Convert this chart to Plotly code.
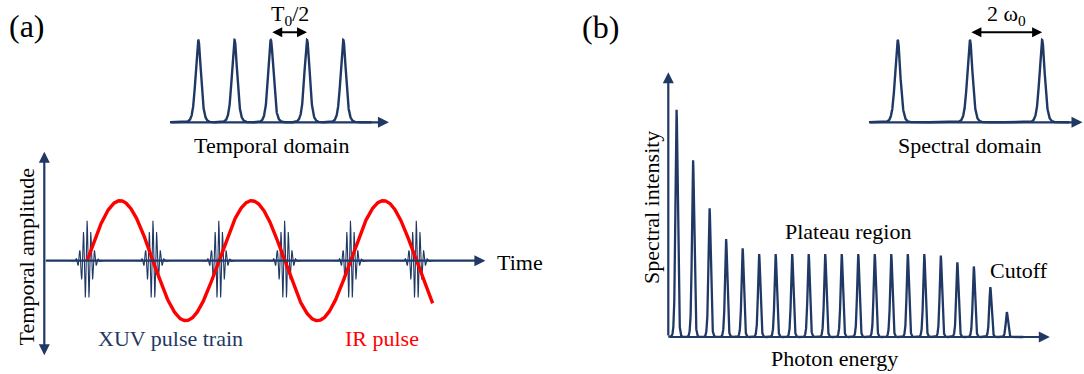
import numpy as np
import plotly.graph_objects as go

# ---------------- data ----------------
# (a) temporal inset: attosecond pulse train, positions in units of T0
pulse_train_t = [0.39, 0.89, 1.39, 1.89, 2.39]
pulse_train_amp = [1.0, 1.0, 1.0, 1.0, 1.0]
t0_arrow = [1.39, 1.89]               # T0/2 spacing marker

# (a) main: IR driving field and XUV bursts (time in T0)
ir_start, ir_end = 0.325, 2.95        # first zero crossing -> end of drawn IR
ir_amplitude = 1.0
xuv_burst_t = [0.325, 0.825, 1.325, 1.825, 2.325, 2.825]
xuv_amplitude = 0.667
xuv_carrier_period = 0.0281
xuv_envelope_sigma = 0.034

# (b) spectral inset: harmonic comb, orders in units of w0
inset_orders = [1, 3, 5]
inset_amp = [1.0, 1.0, 1.0]
w0_arrow = [3, 5]                      # 2 w0 spacing marker

# (b) main: HHG spectrum (odd harmonics), intensity a.u.
harm_orders = [1, 3, 5, 7, 9, 11, 13, 15, 17, 19, 21, 23, 25, 27, 29, 31, 33, 35, 37, 39, 41]
harm_heights = [2.74, 2.13, 1.55, 1.18, 1.07, 1.0, 1.0, 1.0, 1.0, 1.0, 1.0,
                1.0, 1.0, 1.0, 1.0, 1.0, 0.98, 0.90, 0.85, 0.60, 0.30]

# ---------------- layout helpers ----------------
W, H = 1084, 374
NAVY = "#1f3864"
RED = "#ff0000"
FONT = "Liberation Serif"
FS = 22


def xdom(p0, v0, s, vmin, vmax):
    return [max(0, (p0 + (vmin - v0) * s) / W), min(1, (p0 + (vmax - v0) * s) / W)]


def ydom(p0, v0, s, vmin, vmax):
    return [max(0, 1 - (p0 - (vmin - v0) * s) / H), min(1, 1 - (p0 - (vmax - v0) * s) / H)]


def sech2_comb(x, centers, heights, w):
    y = np.zeros_like(x)
    for c, h in zip(centers, heights):
        y += h / np.cosh((x - c) / w) ** 2
    return y


fig = go.Figure()

# axis 1: temporal inset
x1r, y1r = [-0.05, 3.08], [-0.1, 1.2]
t1 = np.linspace(0.0, 2.78, 3000)
fig.add_trace(go.Scatter(x=t1, y=sech2_comb(t1, pulse_train_t, pulse_train_amp, 0.048),
                         mode="lines", line=dict(color=NAVY, width=2.4), xaxis="x", yaxis="y"))

# axis 2: main temporal
x2r, y2r = [-0.06, 3.41], [-1.75, 1.95]
xs, ys = [], []
for tc in xuv_burst_t:
    tt = np.arange(tc - 0.13, tc + 0.13, 0.0004)
    yy = xuv_amplitude * np.exp(-((tt - tc) ** 2) / (2 * xuv_envelope_sigma ** 2)) * \
        np.cos(2 * np.pi * (tt - tc) / xuv_carrier_period)
    xs += list(tt) + [None]
    ys += list(yy) + [None]
fig.add_trace(go.Scatter(x=xs, y=ys, mode="lines", line=dict(color=NAVY, width=1.1),
                         xaxis="x2", yaxis="y2"))
tir = np.linspace(ir_start, ir_end, 800)
fig.add_trace(go.Scatter(x=tir, y=ir_amplitude * np.sin(2 * np.pi * (tir - ir_start)),
                         mode="lines", line=dict(color=RED, width=3.4), xaxis="x2", yaxis="y2"))

# axis 3: spectral inset
x3r, y3r = [0.1, 6.14], [-0.1, 1.2]
w3 = np.linspace(0.205, 5.75, 3000)
fig.add_trace(go.Scatter(x=w3, y=sech2_comb(w3, inset_orders, inset_amp, 0.096),
                         mode="lines", line=dict(color=NAVY, width=2.4), xaxis="x3", yaxis="y3"))

# axis 4: main spectrum
x4r, y4r = [-0.6, 46.8], [-0.12, 3.3]
w4 = np.linspace(0.0, 43.0, 6000)
fig.add_trace(go.Scatter(x=w4, y=sech2_comb(w4, harm_orders, harm_heights, 0.175),
                         mode="lines", line=dict(color=NAVY, width=2.3), xaxis="x4", yaxis="y4"))

ax_common = dict(visible=False, fixedrange=True)
fig.update_layout(
    width=W, height=H, margin=dict(l=0, r=0, t=0, b=0),
    paper_bgcolor="white", plot_bgcolor="rgba(0,0,0,0)", showlegend=False,
    xaxis=dict(domain=xdom(170, 0, 72.5, *x1r), range=x1r, anchor="y", **ax_common),
    yaxis=dict(domain=ydom(122.3, 0, 82.4, *y1r), range=y1r, anchor="x", **ax_common),
    xaxis2=dict(domain=xdom(44.3, 0, 131.67, *x2r), range=x2r, anchor="y2", **ax_common),
    yaxis2=dict(domain=ydom(260.7, 0, 60, *y2r), range=y2r, anchor="x2", **ax_common),
    xaxis3=dict(domain=xdom(897.7, 1, 36.1, *x3r), range=x3r, anchor="y3", **ax_common),
    yaxis3=dict(domain=ydom(122.3, 0, 82.4, *y3r), range=y3r, anchor="x3", **ax_common),
    xaxis4=dict(domain=xdom(668.3, 0, 8.2575, *x4r), range=x4r, anchor="y4", **ax_common),
    yaxis4=dict(domain=ydom(337, 0, 83, *y4r), range=y4r, anchor="x4", **ax_common),
)


def arrow(sub, x0, y0, x1, y1, color=NAVY, both=False, width=2.2):
    xr = "x" if sub == 1 else f"x{sub}"
    yr = "y" if sub == 1 else f"y{sub}"
    d = dict(x=x1, y=y1, ax=x0, ay=y0, xref=xr, yref=yr, axref=xr, ayref=yr,
             text="", showarrow=True, arrowhead=2, arrowsize=1, arrowwidth=width,
             arrowcolor=color, standoff=0, startstandoff=0)
    if both:
        d.update(arrowside="end+start", startarrowhead=2, startarrowsize=1)
    fig.add_annotation(**d)


# axes drawn as arrows
arrow(1, 0, 0, 3.02, 0)
arrow(2, 0, 0, 3.35, 0)
arrow(2, 0, -1.6, 0, 1.817, both=True)
arrow(3, 0.205, 0, 6.12, 0)
arrow(4, 0, 0, 46.2, 0)
arrow(4, 0, 0, 0, 3.19)
# spacing markers
arrow(1, t0_arrow[0], 1.092, t0_arrow[1], 1.092, color="black", both=True, width=2)
arrow(3, w0_arrow[0], 1.092, w0_arrow[1], 1.092, color="black", both=True, width=2)


def label(text, px, py, size=FS, color="black", angle=0, xanchor="center"):
    fig.add_annotation(x=px / W, y=1 - py / H, xref="paper", yref="paper", text=text,
                       showarrow=False, xanchor=xanchor, yanchor="middle", textangle=angle,
                       font=dict(family=FONT, size=size, color=color))


label("(a)", 26.7, 26, size=32)
label("(b)", 600, 27.5, size=32)
label("T<sub>0</sub>/2", 290, 15)
label("Temporal domain", 271.5, 145)
label("Time", 495, 262, xanchor="left")
label("Temporal amplitude", 26.7, 256.7, angle=-90)
label("XUV pulse train", 170.7, 338.3, color=NAVY)
label("IR pulse", 382.3, 338.3, color=RED)
label("2 ω<sub>0</sub>", 1006.7, 15)
label("Spectral domain", 970, 145)
label("Spectral intensity", 651.5, 207.5, angle=-90)
label("Plateau region", 847.7, 231.5)
label("Cutoff", 1019.5, 270)
label("Photon energy", 834.7, 358)

fig.write_html("out.html")
